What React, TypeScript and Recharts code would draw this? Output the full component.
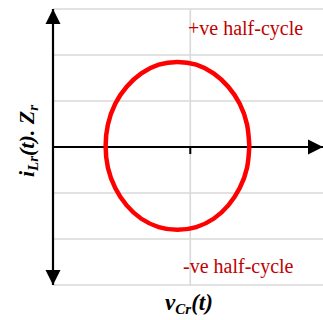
import React from "react";
import {
  ComposedChart,
  Line,
  XAxis,
  YAxis,
  ReferenceLine,
  ReferenceDot,
} from "recharts";

// Resonant-tank state-plane trajectory: capacitor voltage vs. normalised inductor current
const vCr = [
  1.29, 1.24, 1.08, 0.83, 0.51, 0.13, -0.28, -0.69, -1.07, -1.39, -1.64, -1.8,
  -1.85, -1.8, -1.64, -1.39, -1.07, -0.69, -0.28, 0.13, 0.51, 0.83, 1.08, 1.24,
  1.29,
];
const iLrZr = [
  0.02, 0.49, 0.94, 1.31, 1.6, 1.79, 1.85, 1.79, 1.6, 1.31, 0.94, 0.49, 0.02,
  -0.45, -0.89, -1.27, -1.56, -1.74, -1.8, -1.74, -1.56, -1.27, -0.89, -0.45,
  0.02,
];

const xDomain: [number, number] = [-3, 2.9];
const yDomain: [number, number] = [-3, 3];
const yGridValues = [-3, -2, -1, 1, 2, 3];
const xGridValues = [0];

const data = vCr.map((x, i) => ({ x, y: iLrZr[i] }));

const W = 323;
const H = 320;
const GRID = "#d9d9d9";
const LABEL_RED = "#c00000";

function arrowHead(tx: number, ty: number, fx: number, fy: number, key: string) {
  const dx = tx - fx;
  const dy = ty - fy;
  const len = Math.hypot(dx, dy) || 1;
  const ux = dx / len;
  const uy = dy / len;
  const L = 15;
  const hw = 7.5;
  const bx = tx - ux * L;
  const by = ty - uy * L;
  const pts = [
    [tx, ty],
    [bx - uy * hw, by + ux * hw],
    [bx + uy * hw, by - ux * hw],
  ]
    .map((p) => p.join(","))
    .join(" ");
  return <polygon key={key} points={pts} fill="#000" />;
}

// axis line with arrowheads: both ends for the vertical axis, right end for the horizontal one
const makeAxis = (bothEnds: boolean) => (props: any) => {
  const { x1, y1, x2, y2 } = props;
  const heads: React.ReactNode[] = [];
  if (bothEnds) {
    heads.push(arrowHead(x1, y1, x2, y2, "a"));
    heads.push(arrowHead(x2, y2, x1, y1, "b"));
  } else if (x2 >= x1) {
    heads.push(arrowHead(x2, y2, x1, y1, "b"));
  } else {
    heads.push(arrowHead(x1, y1, x2, y2, "a"));
  }
  return (
    <g>
      <line x1={x1} y1={y1} x2={x2} y2={y2} stroke="#000" strokeWidth={2.2} />
      {heads}
    </g>
  );
};

const OriginTick = (props: any) => {
  const { cx, cy } = props;
  return <line x1={cx} y1={cy} x2={cx} y2={cy + 7} stroke="#000" strokeWidth={2} />;
};

export default function App() {
  return (
    <div style={{ position: "absolute", left: 0, top: 0, width: W, height: H, background: "#fff" }}>
      <ComposedChart
        width={W}
        height={H}
        data={data}
        margin={{ top: 9, right: 0, bottom: 35, left: 53 }}
      >
        <XAxis type="number" dataKey="x" domain={xDomain} hide allowDataOverflow />
        <YAxis type="number" domain={yDomain} hide allowDataOverflow />
        {yGridValues.map((v) => (
          <ReferenceLine key={`h${v}`} y={v} stroke={GRID} strokeWidth={1.6} />
        ))}
        {xGridValues.map((v) => (
          <ReferenceLine key={`v${v}`} x={v} stroke={GRID} strokeWidth={1.6} />
        ))}
        <ReferenceLine y={0} shape={makeAxis(false)} />
        <ReferenceLine x={xDomain[0]} shape={makeAxis(true)} />
        <ReferenceDot x={0} y={0} r={0} shape={OriginTick} />
        <Line
          type="natural"
          dataKey="y"
          stroke="#ff0000"
          strokeWidth={4.5}
          dot={false}
          activeDot={false}
          isAnimationActive={false}
        />
      </ComposedChart>
      <svg
        width={W}
        height={H}
        style={{ position: "absolute", left: 0, top: 0, pointerEvents: "none" }}
        fontFamily="'Liberation Serif', serif"
      >
        <text x={188} y={35} fontSize={20} fill={LABEL_RED}>
          +ve half-cycle
        </text>
        <text x={183} y={273} fontSize={20} fill={LABEL_RED}>
          -ve half-cycle
        </text>
        <text x={189} y={310} fontSize={23} fontWeight="bold" fontStyle="italic" textAnchor="middle" fill="#000">
          v
          <tspan fontSize={15} dy={4}>Cr</tspan>
          <tspan dy={-4}>(t)</tspan>
        </text>
        <text
          transform="translate(34,141) rotate(-90)"
          fontSize={22}
          fontWeight="bold"
          fontStyle="italic"
          textAnchor="middle"
          fill="#000"
        >
          i
          <tspan fontSize={15} dy={4}>Lr</tspan>
          <tspan dy={-4}>(t). Z</tspan>
          <tspan fontSize={15} dy={4}>r</tspan>
        </text>
      </svg>
    </div>
  );
}
